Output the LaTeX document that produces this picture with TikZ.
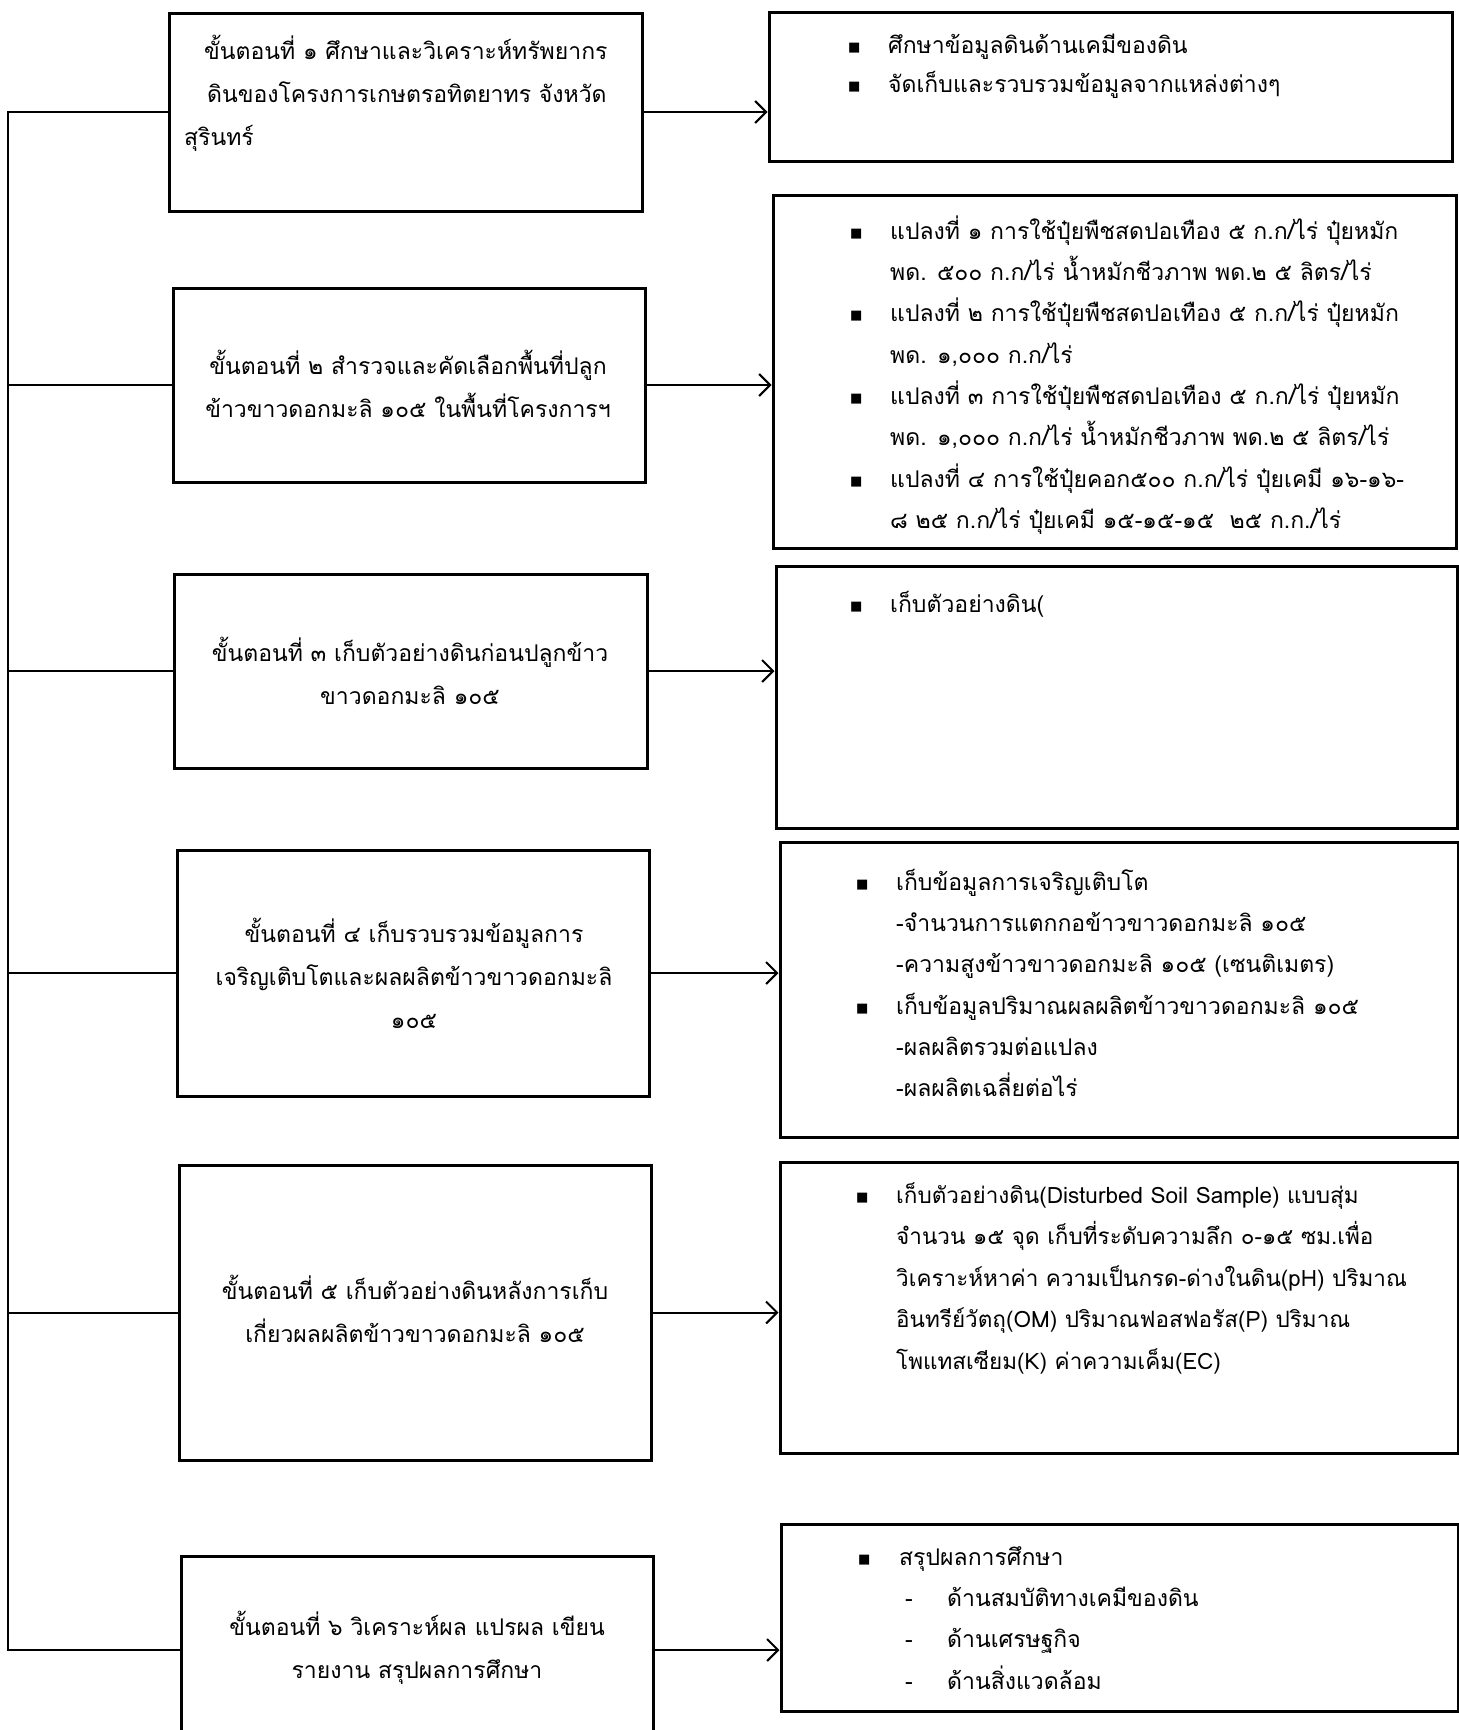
\documentclass[tikz,border=0pt]{standalone}
\usepackage{fontspec}
\newfontfamily\thai[Script=Thai]{Loma}
\newfontfamily\dejavu{DejaVu Sans}
\usetikzlibrary{arrows.meta}
\tikzset{
 stepbox/.style={draw, line width=3pt, rectangle, inner sep=0pt},
 ltext/.style={inner sep=0pt, align=center, font=\thai\fontsize{23}{43}\selectfont},
 rtext/.style={inner sep=0pt, align=left, anchor=north west, font=\thai\fontsize{23}{41.3}\selectfont},
 link/.style={line width=2pt},
 arr/.style={line width=2pt, -{Straight Barb[length=11pt,width=22pt]}},
}
\newcommand\bul{\makebox[40pt][l]{\raisebox{2pt}{\dejavu\fontsize{13}{13}\selectfont ■}}}
\newcommand\ind{\hspace*{40pt}}
\begin{document}
\begin{tikzpicture}[x=1pt,y=-1pt]
\useasboundingbox[fill=white] (0,0) rectangle (1459,1730);
% left boxes
\node[stepbox, minimum width=473pt, minimum height=198pt] (b1) at (405.5,112) {};
\node[stepbox, minimum width=472pt, minimum height=194pt] (b2) at (409,385) {};
\node[stepbox, minimum width=473pt, minimum height=194pt] (b3) at (410.5,671) {};
\node[stepbox, minimum width=472pt, minimum height=246pt] (b4) at (413,973) {};
\node[stepbox, minimum width=472pt, minimum height=295pt] (b5) at (415,1312.5) {};
\node[stepbox, minimum width=472pt, minimum height=188pt] (b6) at (417,1650) {};
% right boxes
\node[stepbox, minimum width=683pt, minimum height=149pt] (r1) at (1110.5,86.5) {};
\node[stepbox, minimum width=683pt, minimum height=353pt] (r2) at (1114.5,371.5) {};
\node[stepbox, minimum width=681pt, minimum height=262pt] (r3) at (1116.5,697) {};
\node[stepbox, minimum width=678pt, minimum height=295pt] (r4) at (1119,989.5) {};
\node[stepbox, minimum width=678pt, minimum height=291pt] (r5) at (1119,1307.5) {};
\node[stepbox, minimum width=677pt, minimum height=187pt] (r6) at (1119.5,1617.5) {};
% left texts
\node[ltext, align=left, anchor=north west] (t1) at (184,28.9) {\strut\hspace*{20pt}ขั้นตอนที่ ๑ ศึกษาและวิเคราะห์ทรัพยากร\\\hspace*{23pt}ดินของโครงการเกษตรอทิตยาทร จังหวัด\\สุรินทร์};
\node[ltext, anchor=north] (t2) at (408,343.9) {\strut ขั้นตอนที่ ๒ สำรวจและคัดเลือกพื้นที่ปลูก\\ข้าวขาวดอกมะลิ ๑๐๕ ในพื้นที่โครงการฯ};
\node[ltext, anchor=north] (t3) at (410,630.9) {\strut ขั้นตอนที่ ๓ เก็บตัวอย่างดินก่อนปลูกข้าว\\ขาวดอกมะลิ ๑๐๕};
\node[ltext, anchor=north] (t4) at (414,911.9) {\strut ขั้นตอนที่ ๔ เก็บรวบรวมข้อมูลการ\\เจริญเติบโตและผลผลิตข้าวขาวดอกมะลิ\\๑๐๕};
\node[ltext, anchor=north] (t5) at (415,1268.9) {\strut ขั้นตอนที่ ๕ เก็บตัวอย่างดินหลังการเก็บ\\เกี่ยวผลผลิตข้าวขาวดอกมะลิ ๑๐๕};
\node[ltext, anchor=north] (t6) at (417,1604.9) {\strut ขั้นตอนที่ ๖ วิเคราะห์ผล แปรผล เขียน\\รายงาน สรุปผลการศึกษา};
% right texts
\node[rtext, font=\thai\fontsize{23}{39}\selectfont] (s1) at (848,25.7) {\strut\bul ศึกษาข้อมูลดินด้านเคมีของดิน\\\bul จัดเก็บและรวบรวมข้อมูลจากแหล่งต่างๆ};
\node[rtext] (s2) at (850,210.1) {\strut\bul แปลงที่ ๑ การใช้ปุ๋ยพืชสดปอเทือง ๕ ก.ก/ไร่ ปุ๋ยหมัก\\\ind พด. ๕๐๐ ก.ก/ไร่ น้ำหมักชีวภาพ พด.๒ ๕ ลิตร/ไร่\\\bul แปลงที่ ๒ การใช้ปุ๋ยพืชสดปอเทือง ๕ ก.ก/ไร่ ปุ๋ยหมัก\\\ind พด. ๑,๐๐๐ ก.ก/ไร่\\\bul แปลงที่ ๓ การใช้ปุ๋ยพืชสดปอเทือง ๕ ก.ก/ไร่ ปุ๋ยหมัก\\\ind พด. ๑,๐๐๐ ก.ก/ไร่ น้ำหมักชีวภาพ พด.๒ ๕ ลิตร/ไร่\\\bul แปลงที่ ๔ การใช้ปุ๋ยคอก๕๐๐ ก.ก/ไร่ ปุ๋ยเคมี ๑๖-๑๖-\\\ind ๘ ๒๕ ก.ก/ไร่ ปุ๋ยเคมี ๑๕-๑๕-๑๕~ ๒๕ ก.ก./ไร่};
\node[rtext] (s3) at (850,583.1) {\strut\bul เก็บตัวอย่างดิน(};
\node[rtext] (s4) at (856,861.1) {\strut\bul เก็บข้อมูลการเจริญเติบโต\\\ind -จำนวนการแตกกอข้าวขาวดอกมะลิ ๑๐๕\\\ind -ความสูงข้าวขาวดอกมะลิ ๑๐๕ (เซนติเมตร)\\\bul เก็บข้อมูลปริมาณผลผลิตข้าวขาวดอกมะลิ ๑๐๕\\\ind -ผลผลิตรวมต่อแปลง\\\ind -ผลผลิตเฉลี่ยต่อไร่};
\node[rtext, font=\thai\fontsize{22.5}{41.5}\selectfont] (s5) at (856,1174.0) {\strut\bul เก็บตัวอย่างดิน(Disturbed Soil Sample) แบบสุ่ม\\\ind จำนวน ๑๕ จุด เก็บที่ระดับความลึก ๐-๑๕ ซม.เพื่อ\\\ind วิเคราะห์หาค่า ความเป็นกรด-ด่างในดิน(pH) ปริมาณ\\\ind อินทรีย์วัตถุ(OM) ปริมาณฟอสฟอรัส(P) ปริมาณ\\\ind โพแทสเซียม(K) ค่าความเค็ม(EC)};
\node[rtext] (s6) at (858,1536.1) {\strut\makebox[41pt][l]{\raisebox{2pt}{\dejavu\fontsize{13}{13}\selectfont ■}}สรุปผลการศึกษา\\\hspace*{47pt}\makebox[42pt][l]{-}ด้านสมบัติทางเคมีของดิน\\\hspace*{47pt}\makebox[42pt][l]{-}ด้านเศรษฐกิจ\\\hspace*{47pt}\makebox[42pt][l]{-}ด้านสิ่งแวดล้อม};
% connectors
\coordinate (vl) at (8,0);
\draw[link] (b1.west) -- (b1.west -| vl) -- (b6.west -| vl) -- (b6.west);
\foreach \b in {b2,b3,b4,b5} \draw[link] (\b.west) -- (\b.west -| vl);
\foreach \i in {1,...,6} \draw[arr] (b\i.east) -- (b\i.east -| r\i.west);
\end{tikzpicture}
\end{document}
